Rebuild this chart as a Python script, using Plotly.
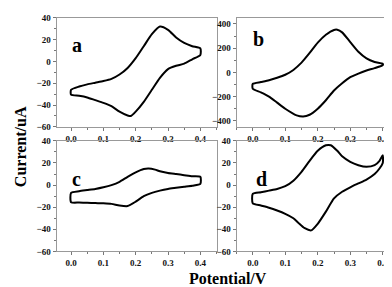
import plotly.graph_objects as go

# ---------------- data ----------------
# Panel a
a_fwd_E = [0.0, 0.025, 0.05, 0.075, 0.1, 0.125, 0.15, 0.175, 0.2, 0.225, 0.25, 0.275, 0.3, 0.325, 0.35, 0.375, 0.4]
a_fwd_I = [-26, -23, -21, -19.5, -18, -16, -12, -6, 3, 14, 25, 32, 29, 22, 17, 14, 12]
a_rev_E = [0.4, 0.375, 0.35, 0.325, 0.3, 0.275, 0.25, 0.225, 0.2, 0.185, 0.175, 0.15, 0.125, 0.1, 0.075, 0.05, 0.025, 0.0]
a_rev_I = [6, 2, -2, -4, -7, -15, -26, -37, -46, -50, -49.5, -46, -41, -38, -35.5, -33, -31.5, -30.5]

# Panel b
b_fwd_E = [0.0, 0.025, 0.05, 0.075, 0.1, 0.125, 0.15, 0.175, 0.2, 0.225, 0.25, 0.26, 0.275, 0.3, 0.325, 0.35, 0.375, 0.4]
b_fwd_I = [-95, -80, -65, -45, -20, 20, 80, 160, 245, 310, 350, 352, 330, 250, 170, 115, 85, 70]
b_rev_E = [0.4, 0.375, 0.35, 0.325, 0.3, 0.275, 0.25, 0.225, 0.2, 0.175, 0.155, 0.135, 0.1, 0.075, 0.05, 0.025, 0.0]
b_rev_I = [60, 35, 15, -10, -40, -90, -150, -230, -300, -350, -365, -355, -300, -250, -200, -165, -135]

# Panel c
c_fwd_E = [0.0, 0.025, 0.05, 0.075, 0.1, 0.125, 0.15, 0.175, 0.2, 0.225, 0.24, 0.26, 0.275, 0.3, 0.325, 0.35, 0.375, 0.4]
c_fwd_I = [-7, -5.5, -4.5, -3.5, -2, 0, 3, 7.5, 11.5, 14.5, 15, 14, 12.5, 11, 10, 9, 8, 7.5]
c_rev_E = [0.4, 0.375, 0.35, 0.325, 0.3, 0.275, 0.25, 0.225, 0.2, 0.175, 0.15, 0.125, 0.1, 0.075, 0.05, 0.025, 0.0]
c_rev_I = [1, -0.5, -1.5, -2.5, -3.5, -5, -7, -10, -15, -19, -18.5, -17, -16.5, -16.3, -16, -15.8, -15.5]

# Panel d
d_fwd_E = [0.0, 0.025, 0.05, 0.075, 0.1, 0.125, 0.15, 0.175, 0.2, 0.225, 0.24, 0.26, 0.275, 0.3, 0.325, 0.35, 0.375, 0.39, 0.4]
d_fwd_I = [-8, -6.5, -5, -3.5, -1, 4, 12, 22, 31, 36, 36, 31, 26, 21, 18, 16.5, 18, 22, 27]
d_rev_E = [0.4, 0.39, 0.375, 0.35, 0.325, 0.3, 0.275, 0.25, 0.225, 0.2, 0.18, 0.16, 0.14, 0.125, 0.1, 0.075, 0.05, 0.025, 0.0]
d_rev_I = [20, 15, 10, 5, 1.5, -2, -6, -12, -24, -35, -41, -39, -34, -30, -26, -23, -20.5, -18.5, -16.5]

panel_labels = ["a", "b", "c", "d"]
x_ticks = [0.0, 0.1, 0.2, 0.3, 0.4]
x_tick_text = ["0.0", "0.1", "0.2", "0.3", "0.4"]
y_ticks_small = [-60, -40, -20, 0, 20, 40]
y_ticks_b = [-400, -200, 0, 200, 400]

W, H = 392, 287
def px(x): return x / W
def py(y): return 1 - y / H

fig = go.Figure()

panels = [
    (a_fwd_E + a_rev_E + [a_fwd_E[0]], a_fwd_I + a_rev_I + [a_fwd_I[0]], "x", "y"),
    (b_fwd_E + b_rev_E + [b_fwd_E[0]], b_fwd_I + b_rev_I + [b_fwd_I[0]], "x2", "y2"),
    (c_fwd_E + c_rev_E + [c_fwd_E[0]], c_fwd_I + c_rev_I + [c_fwd_I[0]], "x3", "y3"),
    (d_fwd_E + d_rev_E + [d_fwd_E[0]], d_fwd_I + d_rev_I + [d_fwd_I[0]], "x4", "y4"),
]
for E, I, xa, ya in panels:
    fig.add_trace(go.Scatter(x=E, y=I, xaxis=xa, yaxis=ya, mode="lines",
                             line=dict(color="black", width=2, shape="spline", smoothing=0.6),
                             showlegend=False, hoverinfo="skip"))

font_fam = "Liberation Serif"
tickfont = dict(family=font_fam, size=9, color="#111111", weight="bold")

def xaxis(dom, anchor, rng):
    return dict(domain=dom, anchor=anchor, range=rng, tickvals=x_ticks, ticktext=x_tick_text,
                ticks="outside", ticklen=3, tickcolor="#777", showline=True, linecolor="#999",
                linewidth=1, mirror=True, showgrid=False, zeroline=False, tickfont=tickfont,
                minor=dict(ticks="outside", ticklen=2, tickcolor="#777", dtick=0.05))

def yaxis(dom, anchor, rng, tv, dminor):
    return dict(domain=dom, anchor=anchor, range=rng, tickvals=tv,
                ticks="outside", ticklen=3, tickcolor="#777", showline=True, linecolor="#999",
                linewidth=1, mirror=True, showgrid=False, zeroline=False, tickfont=tickfont,
                minor=dict(ticks="outside", ticklen=2, tickcolor="#777", dtick=dminor))

xa_dom_left = [px(48.5), px(208.5)]
xa_dom_right = [px(228.5), px(391)]
ya_dom_top = [py(118), py(5)]
ya_dom_bot = [py(247), py(132.5)]

fig.update_layout(
    width=W, height=H, margin=dict(l=0, r=0, t=0, b=0),
    paper_bgcolor="white", plot_bgcolor="white",
    xaxis=xaxis(xa_dom_left, "y", [-0.045, 0.45]),
    yaxis=yaxis(ya_dom_top, "x", [-60, 40], y_ticks_small, 10),
    xaxis2=xaxis(xa_dom_right, "y2", [-0.05, 0.45]),
    yaxis2=yaxis(ya_dom_top, "x2", [-450, 450], y_ticks_b, 100),
    xaxis3=xaxis(xa_dom_left, "y3", [-0.045, 0.45]),
    yaxis3=yaxis(ya_dom_bot, "x3", [-60, 40], y_ticks_small, 10),
    xaxis4=xaxis(xa_dom_right, "y4", [-0.05, 0.45]),
    yaxis4=yaxis(ya_dom_bot, "x4", [-60, 40], y_ticks_small, 10),
)

label_pos = [(69, 33), (251, 27), (68, 172), (253, 172)]
for lab, (lx, ly) in zip(panel_labels, label_pos):
    fig.add_annotation(text=lab, x=px(lx), y=py(ly), xref="paper", yref="paper",
                       showarrow=False, xanchor="center", yanchor="middle",
                       font=dict(family=font_fam, size=20, color="black", weight="bold"))

fig.add_annotation(text="Potential/V", x=px(220), y=py(275), xref="paper", yref="paper",
                   showarrow=False, xanchor="center", yanchor="middle",
                   font=dict(family=font_fam, size=16, color="black", weight="bold"))
fig.add_annotation(text="Current/uA", x=px(12), y=py(139), xref="paper", yref="paper",
                   showarrow=False, xanchor="center", yanchor="middle", textangle=-90,
                   font=dict(family=font_fam, size=16, color="black", weight="bold"))

fig.write_html("out.html")
